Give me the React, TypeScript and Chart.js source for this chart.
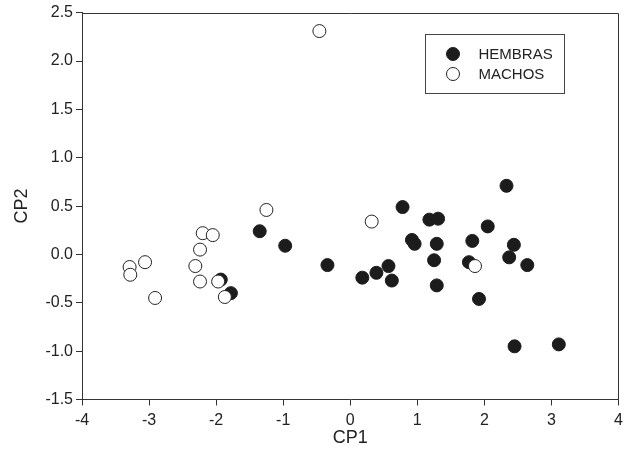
import React, { useEffect, useRef } from "react";
import { Chart, registerables } from "chart.js";

Chart.register(...registerables);

// ---- data ----
const seriesLabels = ["HEMBRAS", "MACHOS"];

const hembrasX = [-1.93, -1.78, -1.35, -0.97, -0.34, 0.18, 0.39, 0.57, 0.62, 0.78, 0.92, 0.96, 1.18, 1.31, 1.29, 1.25, 1.29, 2.33, 2.05, 1.82, 1.77, 1.92, 2.44, 2.37, 2.64, 2.45, 3.11];
const hembrasY = [-0.26, -0.40, 0.24, 0.09, -0.11, -0.24, -0.19, -0.12, -0.27, 0.49, 0.15, 0.11, 0.36, 0.37, 0.11, -0.06, -0.32, 0.71, 0.29, 0.14, -0.08, -0.46, 0.10, -0.03, -0.11, -0.95, -0.93];

const machosX = [-3.29, -3.28, -3.06, -2.91, -2.20, -2.05, -2.24, -2.31, -2.24, -1.97, -1.87, -1.25, -0.46, 0.32, 1.86];
const machosY = [-0.13, -0.21, -0.08, -0.45, 0.22, 0.20, 0.05, -0.12, -0.28, -0.28, -0.44, 0.46, 2.31, 0.34, -0.12];

const xTicks = [-4, -3, -2, -1, 0, 1, 2, 3, 4];
const yTicks = [-1.5, -1.0, -0.5, 0.0, 0.5, 1.0, 1.5, 2.0, 2.5];

const xTitle = "CP1";
const yTitle = "CP2";

const FONT = "'Liberation Sans', Arial, Helvetica, sans-serif";
const AXIS_COLOR = "#333333";
const TEXT_COLOR = "#222222";
const FILL_COLOR = "#1c1c1c";

const toPoints = (xs: number[], ys: number[]) => xs.map((x, i) => ({ x, y: ys[i] }));

const framePlugin = {
  id: "frame",
  afterDraw(chart: any) {
    const { ctx, chartArea } = chart;
    const l = Math.round(chartArea.left) + 0.5;
    const r = Math.round(chartArea.right) - 0.5;
    const t = Math.round(chartArea.top) + 0.5;
    const b = Math.round(chartArea.bottom) - 0.5;
    ctx.save();
    ctx.strokeStyle = AXIS_COLOR;
    ctx.lineWidth = 1;
    ctx.beginPath();
    ctx.moveTo(l, t);
    ctx.lineTo(r, t);
    ctx.lineTo(r, b + 0.5);
    ctx.stroke();
    ctx.restore();
  },
};

const legendPlugin = {
  id: "boxLegend",
  afterDraw(chart: any) {
    const { ctx, chartArea } = chart;
    const bx = Math.round(chartArea.left + 343) + 0.5;
    const by = Math.round(chartArea.top + 21) + 0.5;
    const bw = 139;
    const bh = 59;
    ctx.save();
    ctx.strokeStyle = "#444444";
    ctx.lineWidth = 1;
    ctx.strokeRect(bx, by, bw, bh);
    chart.data.datasets.forEach((ds: any, i: number) => {
      const cy = by + 19.5 + i * 20;
      const cx = bx + 27.5;
      ctx.beginPath();
      ctx.arc(cx, cy, 6.5, 0, Math.PI * 2);
      ctx.fillStyle = ds.backgroundColor;
      ctx.fill();
      ctx.lineWidth = 1;
      ctx.strokeStyle = ds.borderColor;
      ctx.stroke();
      ctx.fillStyle = TEXT_COLOR;
      ctx.font = `15px ${FONT}`;
      ctx.textBaseline = "middle";
      ctx.textAlign = "left";
      ctx.fillText(ds.label, bx + 53, cy + 0.5);
    });
    ctx.restore();
  },
};

export default function App() {
  const canvasRef = useRef<HTMLCanvasElement | null>(null);

  useEffect(() => {
    const canvas = canvasRef.current;
    if (!canvas) return;
    const chart = new Chart(canvas, {
      type: "scatter",
      data: {
        datasets: [
          {
            label: seriesLabels[0],
            data: toPoints(hembrasX, hembrasY),
            backgroundColor: FILL_COLOR,
            borderColor: FILL_COLOR,
            borderWidth: 1,
            pointRadius: 6.5,
            pointHoverRadius: 6.5,
            order: 1,
          },
          {
            label: seriesLabels[1],
            data: toPoints(machosX, machosY),
            backgroundColor: "#ffffff",
            borderColor: "#222222",
            borderWidth: 1,
            pointRadius: 6.5,
            pointHoverRadius: 6.5,
            order: 0,
          },
        ],
      },
      plugins: [framePlugin, legendPlugin],
      options: {
        animation: false,
        responsive: false,
        devicePixelRatio: 1,
        layout: { padding: { top: 12.7, right: 6, bottom: 0, left: 0 } },
        plugins: {
          legend: { display: false },
          tooltip: { enabled: false },
        },
        scales: {
          x: {
            type: "linear",
            min: xTicks[0],
            max: xTicks[xTicks.length - 1],
            afterBuildTicks: (scale: any) => {
              scale.ticks = xTicks.map((v) => ({ value: v }));
            },
            afterFit: (scale: any) => {
              scale.height = 65.5;
              scale.paddingLeft = 0;
              scale.paddingRight = 0;
            },
            grid: {
              drawOnChartArea: false,
              drawTicks: true,
              tickLength: 6,
              color: AXIS_COLOR,
            },
            border: { display: true, color: AXIS_COLOR, width: 1 },
            ticks: {
              color: TEXT_COLOR,
              font: { family: FONT, size: 16 },
              padding: 5,
              maxRotation: 0,
              callback: (v: any) => String(v),
            },
            title: {
              display: true,
              text: xTitle,
              color: TEXT_COLOR,
              font: { family: FONT, size: 18 },
              padding: { top: 0, bottom: 16 },
            },
          },
          y: {
            type: "linear",
            min: yTicks[0],
            max: yTicks[yTicks.length - 1],
            afterBuildTicks: (scale: any) => {
              scale.ticks = yTicks.map((v) => ({ value: v }));
            },
            afterFit: (scale: any) => {
              scale.width = 82;
              scale.paddingTop = 0;
              scale.paddingBottom = 0;
            },
            grid: {
              drawOnChartArea: false,
              drawTicks: true,
              tickLength: 6,
              color: AXIS_COLOR,
            },
            border: { display: true, color: AXIS_COLOR, width: 1 },
            ticks: {
              color: TEXT_COLOR,
              font: { family: FONT, size: 16 },
              padding: 3,
              callback: (v: any) => Number(v).toFixed(1),
            },
            title: {
              display: true,
              text: yTitle,
              color: TEXT_COLOR,
              font: { family: FONT, size: 18 },
              padding: { top: 11, bottom: 0 },
            },
          },
        },
      },
    });
    return () => chart.destroy();
  }, []);

  return (
    <div style={{ position: "absolute", left: 0, top: 0, width: 626, height: 465, background: "#ffffff" }}>
      <canvas ref={canvasRef} width={626} height={465} style={{ display: "block", width: 626, height: 465 }} />
    </div>
  );
}
